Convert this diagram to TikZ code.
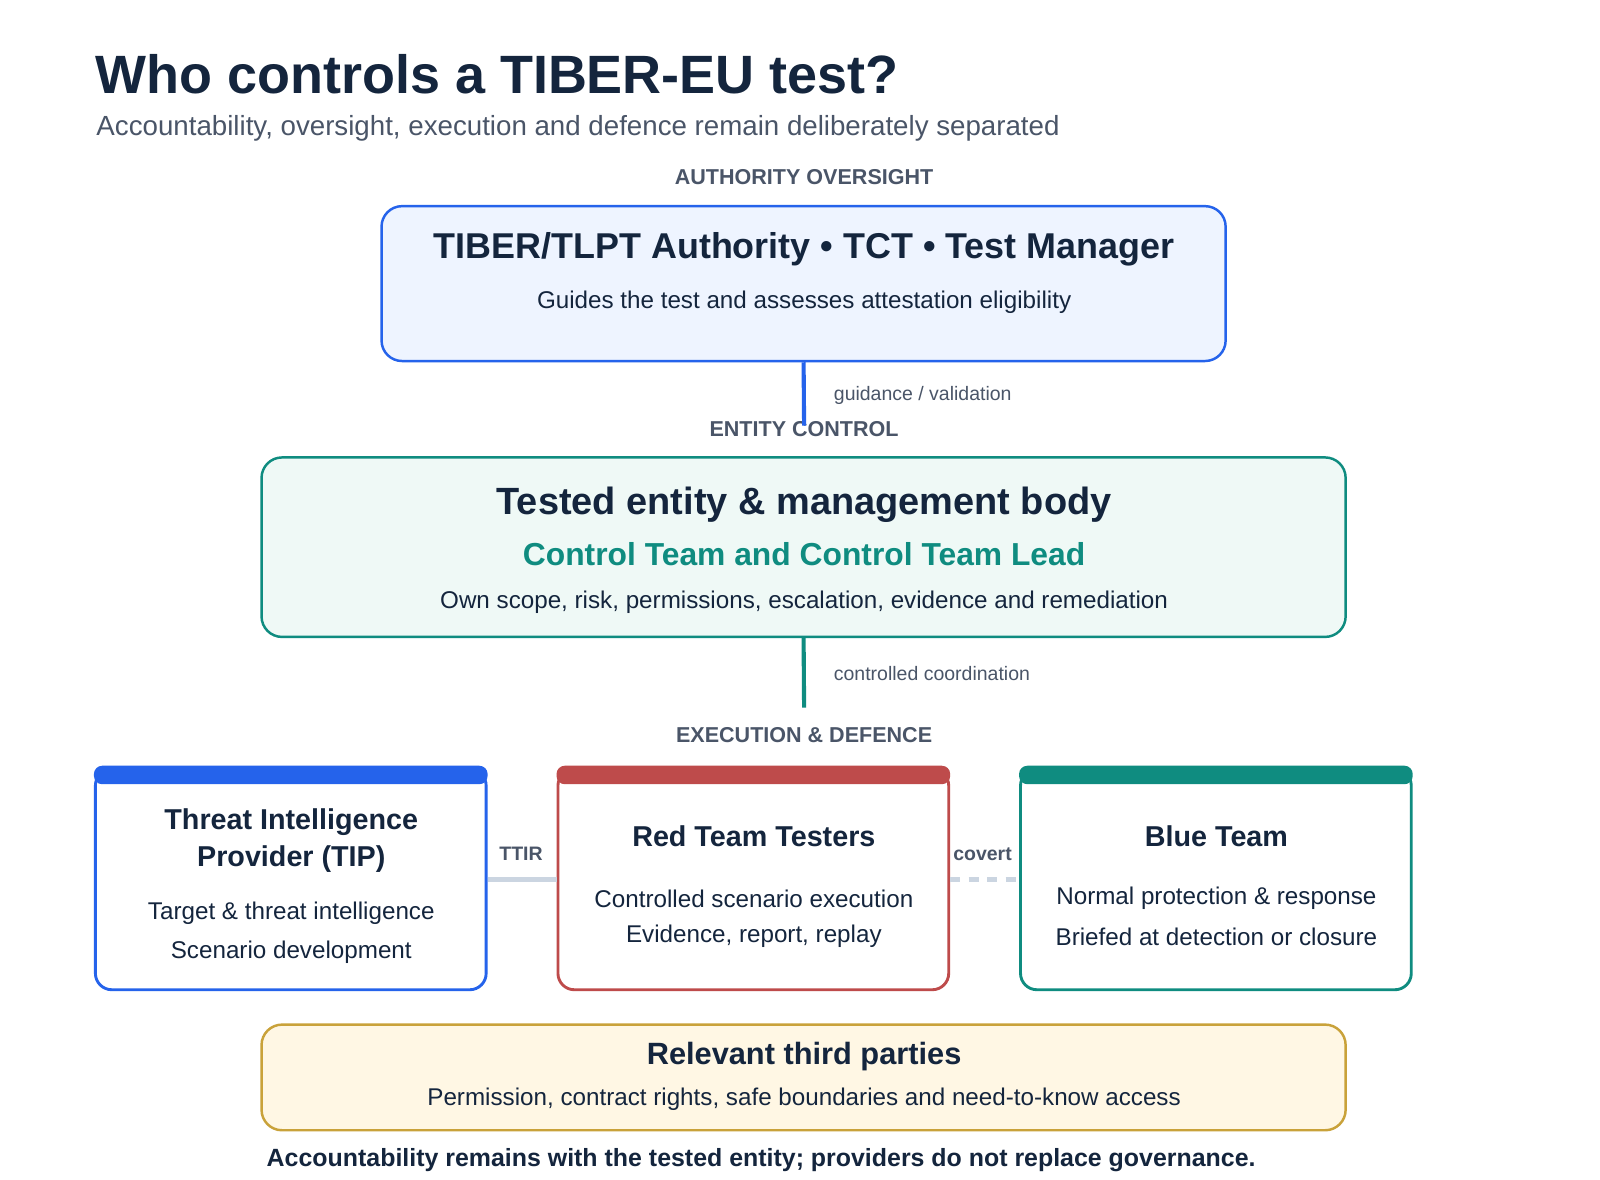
\documentclass[tikz,border=0pt]{standalone}
\usepackage{fontspec}
\setmainfont{Liberation Sans}
\usetikzlibrary{positioning}
\definecolor{navy}{HTML}{14253D}
\definecolor{slate}{HTML}{4A5568}
\definecolor{tblue}{HTML}{2563EB}
\definecolor{tteal}{HTML}{0F8C80}
\definecolor{tred}{HTML}{BE4B4B}
\definecolor{tgold}{HTML}{C9A23A}
\definecolor{fblue}{HTML}{EEF4FF}
\definecolor{fteal}{HTML}{EFF9F6}
\definecolor{fgold}{HTML}{FFF7E4}
\definecolor{lgrey}{HTML}{CBD5E1}
\tikzset{
  box/.style={draw,line width=1.2pt,rounded corners=10pt,inner sep=0pt},
  card/.style={draw,line width=1.4pt,fill=white,rounded corners=8pt,minimum width=190.5pt,minimum height=107.5pt,inner sep=0pt},
  tier/.style={font=\fontsize{10.5}{12}\selectfont\bfseries,text=slate},
  note/.style={font=\fontsize{9.5}{11}\selectfont,text=slate,anchor=west},
  txt/.style={font=\fontsize{11.8}{14}\selectfont,text=navy},
  ctitle/.style={font=\fontsize{14}{18}\selectfont\bfseries,text=navy,align=center}
}
\begin{document}
\begin{tikzpicture}[x=0.5pt,y=-0.5pt]
\useasboundingbox[fill=white] (0,0) rectangle (1560,1150);
% heading
\node[anchor=west,font=\fontsize{26.3}{32}\selectfont\bfseries,text=navy] (title) at (86,72) {Who controls a TIBER-EU test?};
\node[anchor=west,font=\fontsize{13.5}{16}\selectfont,text=slate] (sub) at (87,125) {Accountability, oversight, execution and defence remain deliberately separated};

% authority
\node[tier] (t1) at (784,173) {AUTHORITY OVERSIGHT};
\node[box,draw=tblue,fill=fblue,minimum width=411.5pt,minimum height=75.5pt] (auth) at (783.5,276.5) {};
\node[font=\fontsize{17.5}{22}\selectfont\bfseries,text=navy] (authT) at (784,243) {TIBER/TLPT Authority • TCT • Test Manager};
\node[txt] (authS) at (784,295) {Guides the test and assesses attestation eligibility};

% entity
\node[tier] (t2) at (784,418) {ENTITY CONTROL};
\coordinate (authEnd) at (784,415);
\draw[tblue,line width=2pt] (auth.south) -- (authEnd);
\node[note] (l1) at (806,386) {guidance / validation};
\node[box,draw=tteal,fill=fteal,minimum width=528.5pt,minimum height=87.5pt] (ctrl) at (783.5,533.5) {};
\node[font=\fontsize{18.5}{22}\selectfont\bfseries,text=navy] (ctrlT) at (784,492) {Tested entity \& management body};
\node[font=\fontsize{15.5}{19}\selectfont\bfseries,text=tteal] (ctrlS) at (784,540) {Control Team and Control Team Lead};
\node[txt] (ctrlX) at (784,587) {Own scope, risk, permissions, escalation, evidence and remediation};

% execution
\coordinate (ctrlEnd) at (784,690);
\draw[tteal,line width=2pt] (ctrl.south) -- (ctrlEnd);
\node[note] (l2) at (806,657) {controlled coordination};
\node[tier] (t3) at (784,717) {EXECUTION \& DEFENCE};

\node[card,draw=tblue] (tip) at (283.5,857.5) {};
\node[card,draw=tred] (red) at (734.5,857.5) {};
\node[card,draw=tteal] (blue) at (1185.5,857.5) {};
\foreach \c/\col in {tip/tblue,red/tred,blue/tteal}
  \fill[\col,rounded corners=4pt] ([yshift=1pt]\c.north west) rectangle ([yshift=-8pt]\c.north east);

\node[ctitle] (tipT) at (284,820) {Threat Intelligence\\Provider (TIP)};
\node[txt] (tip1) at (284,890) {Target \& threat intelligence};
\node[txt] (tip2) at (284,928) {Scenario development};
\node[ctitle] (redT) at (735,815) {Red Team Testers};
\node[txt] (red1) at (735,876) {Controlled scenario execution};
\node[txt] (red2) at (735,913) {Evidence, report, replay};
\node[ctitle] (blueT) at (1186,815) {Blue Team};
\node[txt] (blue1) at (1186,876) {Normal protection \& response};
\node[txt] (blue2) at (1186,913) {Briefed at detection or closure};

\draw[lgrey,line width=2pt] (tip.east) -- (red.west);
\draw[lgrey,line width=2pt,dash pattern=on 5pt off 4pt] (red.east) -- (blue.west);
\node[font=\fontsize{9.5}{11}\selectfont\bfseries,text=slate] (ttir) at (508,832) {TTIR};
\node[font=\fontsize{9.5}{11}\selectfont\bfseries,text=slate] (cov) at (958,833) {covert};

% third parties
\node[box,draw=tgold,fill=fgold,minimum width=528.5pt,minimum height=51.5pt] (third) at (783.5,1050.5) {};
\node[font=\fontsize{15}{18}\selectfont\bfseries,text=navy] (thirdT) at (784,1030) {Relevant third parties};
\node[txt] (thirdS) at (784,1072) {Permission, contract rights, safe boundaries and need-to-know access};
\node[anchor=west,font=\fontsize{12.15}{14}\selectfont\bfseries,text=navy] (foot) at (253,1131) {Accountability remains with the tested entity; providers do not replace governance.};
\end{tikzpicture}
\end{document}
